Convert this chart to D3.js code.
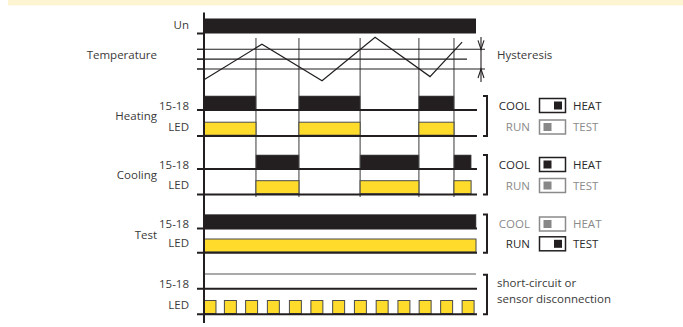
<!DOCTYPE html>
<html><head><meta charset="utf-8">
<script src="https://cdn.jsdelivr.net/npm/d3@7"></script>
<style>
html,body{margin:0;padding:0;background:#fff;}
svg{display:block;}
text{font-family:"Open Sans",sans-serif;font-size:11.5px;fill:#3a3a3a;}
</style></head>
<body>
<script>
// ---------------- data ----------------
const timeDomain = [0, 100];
const unOn = [[0, 100]];
const tempTimes  = [0, 21.3, 43.4, 62.9, 83.1, 94.9];
const tempValues = [19.9, 23.52, 19.8, 24.23, 20.23, 23.73];
const tempLevels = [23, 22, 21];          // upper, setpoint, lower
const switchTimes = [19.1, 34.9, 57.4, 79.0, 91.9];
const heatingOn = [[0, 19.1], [34.9, 57.4], [79.0, 91.9]];
const coolingOn = [[19.1, 34.9], [57.4, 79.0], [91.9, 98.2]];
const testOn = [[0, 100]];
const faultOut = [];
const faultLedStarts = [0, 7.5, 15.3, 23.3, 31.4, 39.3, 47.3, 55.3, 63.3, 71.3, 79.1, 87.0, 94.9];
const faultLedWidth = 4.4;
const rowNames = ["Heating", "Cooling", "Test"];
const trackLabels = ["15-18", "LED"];
const modeLabels = [["COOL", "HEAT"], ["RUN", "TEST"]];
// switch states per block: [active?, knob side] for the two switches
const switchStates = [
  [[true, "right"], [false, "left"]],
  [[true, "left"],  [false, "left"]],
  [[false, "left"], [true, "right"]]
];
const faultText = ["short-circuit or", "sensor disconnection"];

// ---------------- layout ----------------
const W = 683, H = 327;
const dark = "#231f20", grayT = "#8a8a8a", yellow = "#ffdc2b";
const svg = d3.select("body").append("svg").attr("width", W).attr("height", H);

svg.append("rect").attr("x", 8).attr("y", 0).attr("width", W - 8).attr("height", 5.5).attr("fill", "#fdf4d2");

const x = d3.scaleLinear().domain(timeDomain).range([204, 476]);
const yTemp = d3.scaleLinear().domain([21, 23]).range([69, 49.3]);
// baseline of each track
const base = d3.scaleOrdinal()
  .domain(["Un", "Heating-out", "Heating-led", "Cooling-out", "Cooling-led", "Test-out", "Test-led", "Fault-out", "Fault-led"])
  .range([33.5, 110, 136, 169, 194.5, 228.5, 252.8, 288.8, 314.3]);

// vertical switching lines
svg.selectAll("line.sw").data(switchTimes).join("line")
  .attr("x1", d => x(d)).attr("x2", d => x(d))
  .attr("y1", 38).attr("y2", 197)
  .attr("stroke", "#5a5a5a").attr("stroke-width", 1.2);

// temperature level lines
svg.selectAll("line.lvl").data(tempLevels).join("line")
  .attr("x1", 197).attr("x2", (d, i) => i === 1 ? 467 : 485)
  .attr("y1", d => yTemp(d)).attr("y2", d => yTemp(d))
  .attr("stroke", dark).attr("stroke-width", 1.1);

// temperature curve
svg.append("path")
  .attr("d", d3.line().x((d) => x(d[0])).y(d => yTemp(d[1]))(tempTimes.map((t, i) => [t, tempValues[i]])))
  .attr("fill", "none").attr("stroke", dark).attr("stroke-width", 1.2);

// hysteresis arrows
const hx = 481;
const g = svg.append("g").attr("stroke", dark).attr("stroke-width", 1.1).attr("fill", "none");
g.append("line").attr("x1", hx).attr("x2", hx).attr("y1", 37).attr("y2", 82);
g.append("path").attr("d", `M${hx-3},${yTemp(23)-9}L${hx},${yTemp(23)}L${hx+3},${yTemp(23)-9}`);
g.append("path").attr("d", `M${hx-3},${yTemp(21)+9}L${hx},${yTemp(21)}L${hx+3},${yTemp(21)+9}`);
svg.append("text").attr("x", 497).attr("y", 55).attr("dy", "0.35em").text("Hysteresis");

// Un bar
svg.selectAll("rect.un").data(unOn).join("rect")
  .attr("x", d => x(d[0])).attr("width", d => x(d[1]) - x(d[0]))
  .attr("y", base("Un") - 15).attr("height", 15).attr("fill", dark);

// tracks
function drawBars(intervals, key, kind) {
  const h = kind === "out" ? 14 : 13;
  svg.selectAll(null).data(intervals).join("rect")
    .attr("x", d => x(d[0])).attr("width", d => x(d[1]) - x(d[0]))
    .attr("y", base(key) - h - (kind === "out" ? 0 : 0.8)).attr("height", h)
    .attr("fill", kind === "out" ? dark : yellow)
    .attr("stroke", kind === "out" ? "#555" : "#4a4a4a").attr("stroke-width", kind === "out" ? 0.6 : 1);
}
drawBars(heatingOn, "Heating-out", "out");
drawBars(heatingOn, "Heating-led", "led");
drawBars(coolingOn, "Cooling-out", "out");
drawBars(coolingOn, "Cooling-led", "led");
drawBars(testOn, "Test-out", "out");
drawBars(testOn, "Test-led", "led");
drawBars(faultOut, "Fault-out", "out");
drawBars(faultLedStarts.map(s => [s, Math.min(s + faultLedWidth, timeDomain[1])]), "Fault-led", "led");

// fault thin line (output idle level)
svg.append("line").attr("x1", x(0)).attr("x2", x(100)).attr("y1", 274).attr("y2", 274)
  .attr("stroke", "#555").attr("stroke-width", 1);

// baselines
const keys = base.domain().filter(k => k !== "Un");
svg.selectAll("line.base").data(keys).join("line")
  .attr("x1", 197).attr("x2", 477)
  .attr("y1", d => base(d)).attr("y2", d => base(d))
  .attr("stroke", dark).attr("stroke-width", 2);
svg.append("line").attr("x1", 197).attr("x2", 204).attr("y1", base("Un")).attr("y2", base("Un"))
  .attr("stroke", dark).attr("stroke-width", 2);
svg.selectAll("line.tt").data(tempLevels).join("line")
  .attr("x1", 197).attr("x2", 204).attr("y1", d => yTemp(d)).attr("y2", d => yTemp(d))
  .attr("stroke", dark).attr("stroke-width", 1.1);

// main axis
svg.append("line").attr("x1", 204).attr("x2", 204).attr("y1", 12.5).attr("y2", 323)
  .attr("stroke", dark).attr("stroke-width", 2);

// left labels
svg.append("text").attr("x", 189).attr("y", 25).attr("dy", "0.35em").attr("text-anchor", "end").text("Un");
svg.append("text").attr("x", 157).attr("y", 55).attr("dy", "0.35em").attr("text-anchor", "end").text("Temperature");
const rowKeys = ["Heating", "Cooling", "Test", "Fault"];
rowKeys.forEach((r, i) => {
  const bo = base(r + "-out"), bl = base(r + "-led");
  if (i < 3) svg.append("text").attr("x", 157).attr("y", bo + 6).attr("dy", "0.35em")
    .attr("text-anchor", "end").text(rowNames[i]);
  svg.append("text").attr("x", 189).attr("y", bo - 4.5).attr("dy", "0.35em").attr("text-anchor", "end").text(trackLabels[0]);
  svg.append("text").attr("x", 189).attr("y", bl - 9.5).attr("dy", "0.35em").attr("text-anchor", "end").text(trackLabels[1]);
  // bracket
  const top = bo - 14, bot = bl;
  svg.append("path").attr("d", `M483,${top}H487V${bot}H483`)
    .attr("fill", "none").attr("stroke", dark).attr("stroke-width", 2);
});

// switch legends
rowKeys.slice(0, 3).forEach((r, i) => {
  const bo = base(r + "-out"), bl = base(r + "-led");
  const centers = [bo - 4.5, bl - 9];
  switchStates[i].forEach(([active, side], j) => {
    const c = active ? dark : grayT;
    const cy = centers[j];
    svg.append("text").attr("x", 530).attr("y", cy).attr("dy", "0.35em").attr("text-anchor", "end")
      .style("fill", active ? "#2a2a2a" : grayT).text(modeLabels[j][0]);
    svg.append("text").attr("x", 573).attr("y", cy).attr("dy", "0.35em")
      .style("fill", active ? "#2a2a2a" : grayT).text(modeLabels[j][1]);
    svg.append("rect").attr("x", 539.5).attr("y", cy - 7).attr("width", 26).attr("height", 14)
      .attr("fill", "#fff").attr("stroke", c).attr("stroke-width", 1.5);
    svg.append("rect").attr("x", side === "right" ? 554 : 543.5).attr("y", cy - 4).attr("width", 8).attr("height", 8)
      .attr("fill", active ? dark : "#888");
  });
});
faultText.forEach((t, i) => {
  svg.append("text").attr("x", 497).attr("y", 282.5 + i * 16.5).attr("dy", "0.35em").text(t);
});
</script>
</body></html>
